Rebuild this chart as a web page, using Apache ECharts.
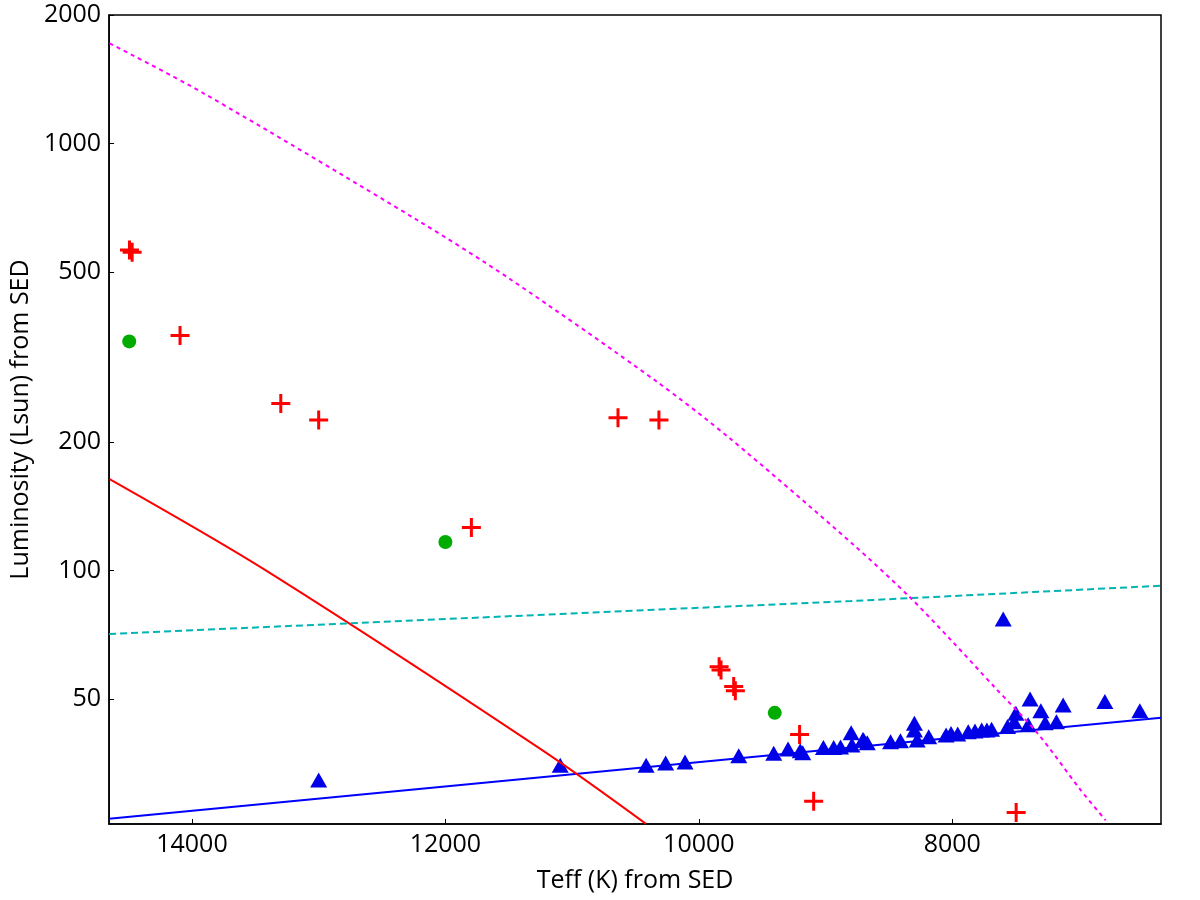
<!DOCTYPE html>
<html>
<head>
<meta charset="utf-8">
<script src="https://cdn.jsdelivr.net/npm/echarts@6/dist/echarts.min.js"></script>
<style>
  html, body { margin: 0; padding: 0; background: #fff; }
  #chart { width: 1200px; height: 900px; }
</style>
</head>
<body>
<div id="chart"></div>
<script>
// tick labels
const xTicks = [8000, 10000, 12000, 14000];
const yTicks = [50, 100, 200, 500, 1000, 2000];

// [Teff, L] red crosses
const crossPts = [
  [14493, 563], [14472, 556], [14094, 355], [13299, 246], [13000, 225],
  [11795, 126], [10638, 228], [10315, 225], [9840, 59.5], [9825, 58.5],
  [9725, 53.5], [9712, 52.3], [9205, 41.3], [9094, 28.8], [7496, 27.1]
];

// green circles
const circlePts = [[14495, 344], [12000, 116.6], [9401, 46.4]];

// blue triangles
const trianglePts = [
  [13000, 32.3], [11094, 35.0], [10416, 35.0], [10262, 35.4], [10109, 35.6],
  [9685, 36.8], [9409, 37.3], [9296, 38.2], [9200, 37.8], [9180, 37.4],
  [9017, 38.5], [8936, 38.5], [8882, 38.6], [8798, 41.7], [8792, 39.0],
  [8705, 40.2], [8700, 40.1], [8671, 39.5], [8487, 39.7], [8409, 39.9],
  [8299, 43.9], [8299, 42.3], [8277, 40.1], [8186, 40.8], [8049, 41.2],
  [8010, 41.5], [7957, 41.4], [7874, 41.9], [7821, 42.1], [7768, 42.3],
  [7727, 42.3], [7690, 42.5], [7598, 77.0], [7564, 43.1], [7511, 44.2],
  [7498, 46.3], [7401, 43.5], [7386, 50.0], [7301, 46.9], [7267, 44.0],
  [7178, 44.2], [7125, 48.4], [6796, 49.3], [6520, 46.9]
];

// model curves
const blueLine = [[14654, 26.2], [6353, 45.2]];
const redLine = [[14650, 163.7], [13430, 100.6], [11239, 38.0], [10417, 25.5]];
const cyanLine = [[14654, 71.0], [8798, 84.8], [6353, 92.1]];
const magentaLine = [
  [14650, 1717], [13916, 1315], [12223, 662], [11488, 481], [10333, 277],
  [9756, 204], [8784, 115.2], [8339, 86.8], [8010, 68.7], [7669, 53.4],
  [7328, 41.6], [6987, 30.6], [6790, 26.0]
];

const FONT = '"Open Sans", "DejaVu Sans", sans-serif';
const plusPath = 'path://M8,0h3v8h8v3h-8v8h-3v-8h-8v-3h8z';

const chart = echarts.init(document.getElementById('chart'));
chart.setOption({
  animation: false,
  backgroundColor: '#fff',
  grid: {
    left: 106, right: 39, top: 15, bottom: 76,
    show: true, borderColor: '#000', borderWidth: 1.5
  },
  xAxis: {
    type: 'value',
    inverse: true,
    min: 6353,
    max: 14654,
    name: 'Teff (K) from SED',
    nameLocation: 'middle',
    nameGap: 44,
    nameTextStyle: { fontFamily: FONT, fontSize: 25, color: '#000' },
    axisLine: { onZero: false, lineStyle: { color: '#000', width: 1.5 } },
    axisTick: { inside: true, length: 5, customValues: xTicks, lineStyle: { color: '#000' } },
    axisLabel: {
      customValues: xTicks,
      fontFamily: FONT, fontSize: 25, color: '#000', margin: 8,
      formatter: v => String(Math.round(v))
    },
    splitLine: { show: false }
  },
  yAxis: {
    type: 'log',
    logBase: 10,
    min: 25.48,
    max: 2000,
    name: 'Luminosity (Lsun) from SED',
    nameLocation: 'middle',
    nameGap: 76,
    nameTextStyle: { fontFamily: FONT, fontSize: 25, color: '#000' },
    axisLine: { onZero: false, lineStyle: { color: '#000', width: 1.5 } },
    axisTick: { inside: true, length: 5, customValues: yTicks, lineStyle: { color: '#000' } },
    axisLabel: {
      customValues: yTicks,
      fontFamily: FONT, fontSize: 25, color: '#000', margin: 8,
      formatter: v => String(Math.round(v))
    },
    splitLine: { show: false },
    minorTick: { show: false }
  },
  series: [
    {
      type: 'line', data: blueLine, z: 1, symbol: 'none',
      lineStyle: { color: '#0000ff', width: 2 }
    },
    {
      type: 'scatter', data: trianglePts, z: 2, symbol: 'triangle', symbolSize: [17, 15],
      itemStyle: { color: '#0000e6', opacity: 1 }
    },
    {
      type: 'scatter', data: circlePts, z: 2, symbol: 'circle', symbolSize: 14,
      itemStyle: { color: '#00ac00', opacity: 1 }
    },
    {
      type: 'scatter', data: crossPts, z: 2, symbol: plusPath, symbolSize: 19,
      itemStyle: { color: '#ff0000', opacity: 1 }
    },
    {
      type: 'line', data: redLine, z: 3, symbol: 'none', smooth: 0.3,
      lineStyle: { color: '#ff0000', width: 2 }
    },
    {
      type: 'line', data: cyanLine, z: 3, symbol: 'none',
      lineStyle: { color: '#00b4b4', width: 2, type: [7, 4] }
    },
    {
      type: 'line', data: magentaLine, z: 3, symbol: 'none', smooth: 0.3,
      lineStyle: { color: '#ff00ff', width: 2, type: [4, 4] }
    }
  ]
});
</script>
</body>
</html>
